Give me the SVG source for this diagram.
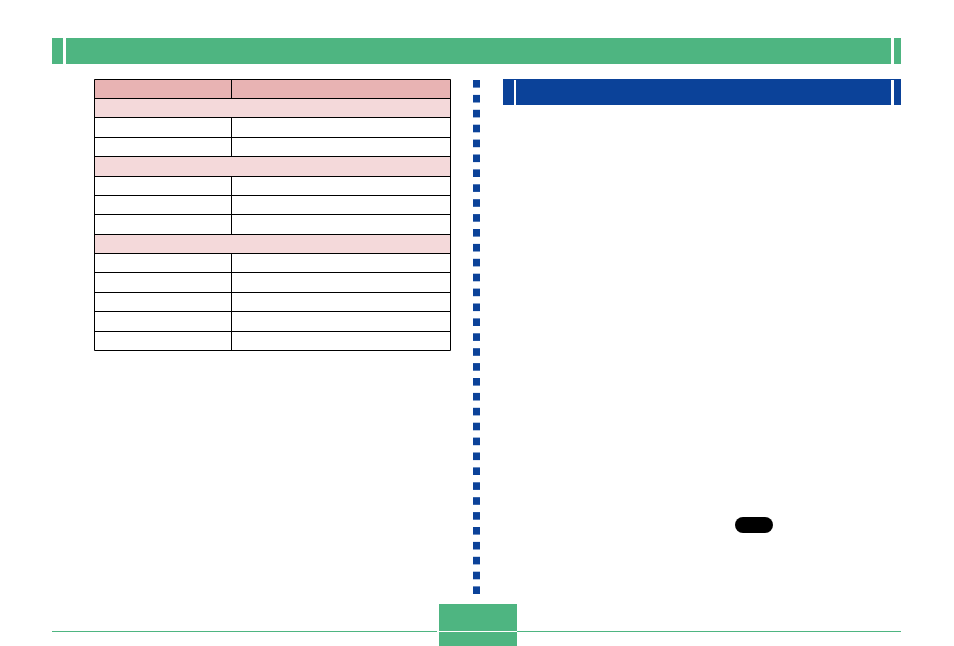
<svg xmlns="http://www.w3.org/2000/svg" width="954" height="646" viewBox="0 0 954 646">
<defs>
<style>
.g{fill:#4eb581}
.b{fill:#0b4299}
.h{fill:#e8b3b3}
.s{fill:#f4d9da}
.l{stroke:#000;stroke-width:1;fill:none}
.w{fill:#fff}
</style>
<rect id="sq" width="7" height="7.6" class="b"/>
</defs>
<rect width="954" height="646" fill="#fff"/>
<g id="header-band">
<rect class="g" x="52" y="38" width="11" height="26"/>
<rect class="g" x="66" y="38" width="825" height="26"/>
<rect class="g" x="894" y="38" width="7" height="26"/>
</g>
<g id="table">
<rect class="h" x="94" y="79" width="357" height="19"/>
<rect class="s" x="94" y="98" width="357" height="19.5"/>
<rect class="s" x="94" y="156" width="357" height="20"/>
<rect class="s" x="94" y="234" width="357" height="19.5"/>
<path class="l" d="M94.5 79.5H450.5V350.5H94.5ZM94 98.5H451M94 117.5H451M94 137.5H451M94 156.5H451M94 176.5H451M94 195.5H451M94 214.5H451M94 234.5H451M94 253.5H451M94 272.5H451M94 292.5H451M94 311.5H451M94 331.5H451M231.5 79V98M231.5 117V156M231.5 176V234M231.5 253V351"/>
</g>
<g id="divider">
<use href="#sq" x="473" y="80"/><use href="#sq" x="473" y="94.9"/><use href="#sq" x="473" y="109.8"/><use href="#sq" x="473" y="124.7"/><use href="#sq" x="473" y="139.6"/><use href="#sq" x="473" y="154.5"/><use href="#sq" x="473" y="169.4"/><use href="#sq" x="473" y="184.3"/><use href="#sq" x="473" y="199.2"/><use href="#sq" x="473" y="214.1"/><use href="#sq" x="473" y="229"/><use href="#sq" x="473" y="243.9"/><use href="#sq" x="473" y="258.8"/><use href="#sq" x="473" y="273.7"/><use href="#sq" x="473" y="288.6"/><use href="#sq" x="473" y="303.5"/><use href="#sq" x="473" y="318.4"/><use href="#sq" x="473" y="333.3"/><use href="#sq" x="473" y="348.2"/><use href="#sq" x="473" y="363.1"/><use href="#sq" x="473" y="378"/><use href="#sq" x="473" y="392.9"/><use href="#sq" x="473" y="407.8"/><use href="#sq" x="473" y="422.7"/><use href="#sq" x="473" y="437.6"/><use href="#sq" x="473" y="452.5"/><use href="#sq" x="473" y="467.4"/><use href="#sq" x="473" y="482.3"/><use href="#sq" x="473" y="497.2"/><use href="#sq" x="473" y="512.1"/><use href="#sq" x="473" y="527"/><use href="#sq" x="473" y="541.9"/><use href="#sq" x="473" y="556.8"/><use href="#sq" x="473" y="571.7"/><use href="#sq" x="473" y="586.4"/>
</g>
<g id="section-band">
<rect class="b" x="503" y="79" width="398" height="26"/>
<rect class="w" x="514" y="80" width="2" height="25"/>
<rect class="w" x="891" y="80" width="3" height="25"/>
</g>
<g id="pill">
<rect x="735" y="517" width="38" height="16" rx="8" ry="8" fill="#000"/>
</g>
<g id="footer">
<rect class="g" x="52" y="631" width="385" height="1"/>
<rect class="g" x="517" y="631" width="384" height="1"/>
<rect class="g" x="439" y="604" width="78" height="42"/>
<rect class="w" x="439" y="631" width="78" height="1"/>
</g>
</svg>
